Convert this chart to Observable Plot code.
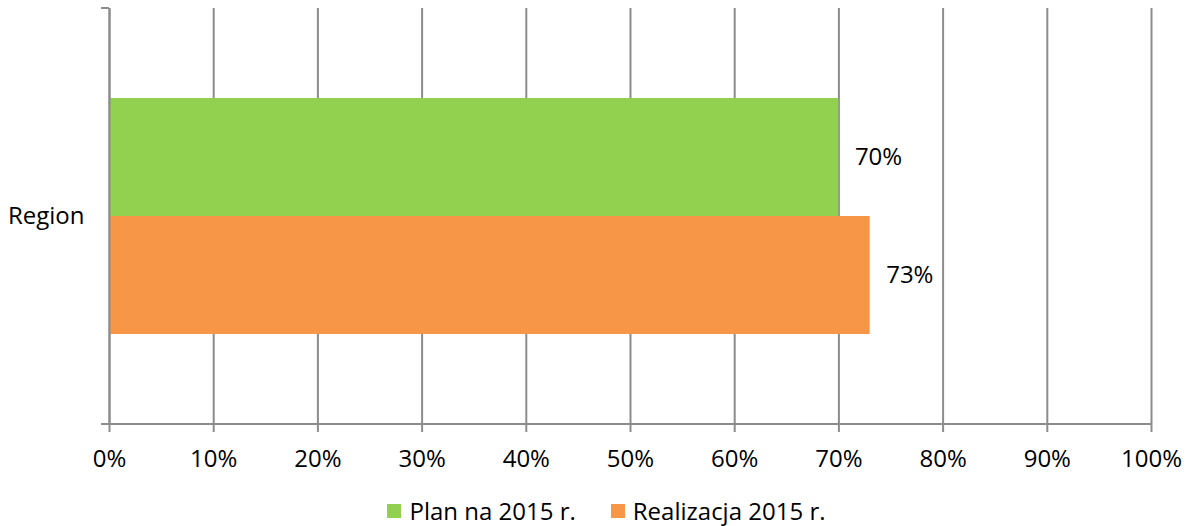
<!DOCTYPE html>
<html>
<head>
<meta charset="utf-8">
<script src="https://cdn.jsdelivr.net/npm/d3@7"></script>
<script src="https://cdn.jsdelivr.net/npm/@observablehq/plot@0.6"></script>
<style>
  html, body { margin: 0; padding: 0; background: #fff; }
  body { width: 1191px; height: 526px; font-family: "Open Sans", sans-serif; }
  #legend { position: relative; display: flex; justify-content: center; gap: 35px; font-size: 24px; color: #000; margin-left: 22px; line-height: 30px; margin-top: 8px; white-space: nowrap; }
  #legend span.item { display: flex; align-items: center; }
  #legend span.sw { display: inline-block; width: 14px; height: 14px; margin-right: 8px; }
</style>
</head>
<body>
<div id="chart"></div>
<div id="legend"></div>
<script>
const categories = ["Region"];
const series = ["Plan na 2015 r.", "Realizacja 2015 r."];
const values = [0.70, 0.73];
const colors = ["#92d050", "#f79646"];
const xTicks = [0, 0.1, 0.2, 0.3, 0.4, 0.5, 0.6, 0.7, 0.8, 0.9, 1.0];

const data = series.map((s, i) => ({category: categories[0], series: s, value: values[i]}));

const W = 1191, H = 488;
const mL = 109, mR = 40, mT = 8, mB = 64;
const gridColor = "#8c8c8c";
const fmt = d3.format(".0%");
const FS = 24;

const chart = Plot.plot({
  width: W,
  height: H,
  marginLeft: mL,
  marginRight: mR,
  marginTop: mT,
  marginBottom: mB,
  style: {fontFamily: "Open Sans, sans-serif", fontSize: FS + "px", color: "#000", background: "#fff", overflow: "visible"},
  x: {domain: [0, 1], label: null},
  y: {domain: series, paddingInner: 0, paddingOuter: 0.755, axis: null},
  color: {domain: series, range: colors},
  marks: [
    Plot.gridX(xTicks, {stroke: gridColor, strokeOpacity: 1, strokeWidth: 2}),
    Plot.barX(data, {x: "value", y: "series", fill: "series"}),
    Plot.ruleX([0], {stroke: gridColor, strokeWidth: 2}),
    Plot.text(data, {x: "value", y: "series", text: d => fmt(d.value), textAnchor: "start", dx: 16, fontSize: FS, fill: "#000"}),
    Plot.text(categories, {text: d => d, frameAnchor: "left", textAnchor: "end", dx: -25, fontSize: FS, fill: "#000"}),
    Plot.axisX(xTicks, {tickSize: 8, tickPadding: 17, tickFormat: fmt, fontSize: FS, stroke: gridColor, strokeWidth: 2, fill: "#000", label: null})
  ]
});

// axis baseline and category-axis boundary ticks, positioned via the x scale
const xs = chart.scale("x");
const svg = d3.select(chart);
const x0 = xs.apply(0), x1 = xs.apply(1);
const yTop = mT, yBot = H - mB;
svg.append("line").attr("x1", x0 - 8).attr("x2", x1).attr("y1", yBot).attr("y2", yBot)
  .attr("stroke", gridColor).attr("stroke-width", 2);
svg.append("line").attr("x1", x0 - 8).attr("x2", x0).attr("y1", yTop).attr("y2", yTop)
  .attr("stroke", gridColor).attr("stroke-width", 2);

document.getElementById("chart").appendChild(chart);

const legend = d3.select("#legend");
series.forEach((s, i) => {
  const item = legend.append("span").attr("class", "item");
  item.append("span").attr("class", "sw").style("background", colors[i]);
  item.append("span").text(s);
});
</script>
</body>
</html>
